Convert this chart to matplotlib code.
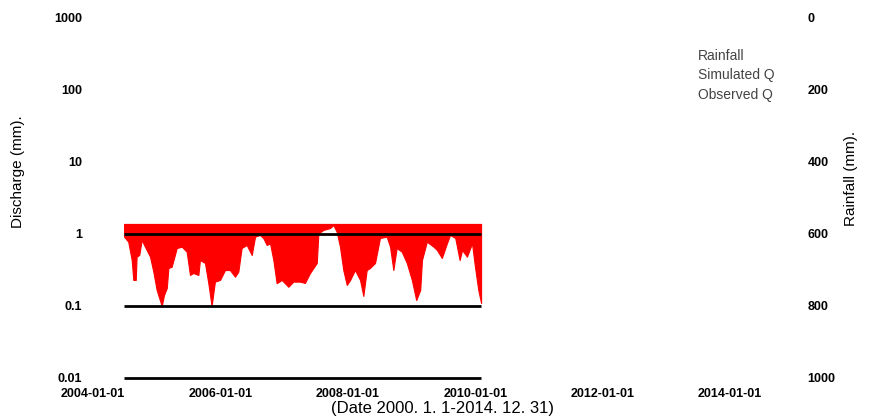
import matplotlib
matplotlib.use("Agg")
import matplotlib.pyplot as plt
import matplotlib.dates as mdates
import numpy as np
import pandas as pd

plt.rcParams['font.family'] = ['Liberation Sans', 'DejaVu Sans']

# Simulated Q: lower envelope of the dense daily series (mm), upper bound ~1.38
sim_dates = ["2004-06-27", "2004-07-21", "2004-08-10", "2004-08-19", "2004-09-02", "2004-09-07",
             "2004-09-22", "2004-10-06", "2004-10-25", "2004-11-23", "2004-12-12", "2004-12-31",
             "2005-01-29", "2005-02-11", "2005-02-27", "2005-03-08", "2005-03-27", "2005-04-25",
             "2005-05-24", "2005-06-21", "2005-07-10", "2005-07-29", "2005-08-27", "2005-09-05",
             "2005-10-04", "2005-10-23", "2005-11-11", "2005-11-30", "2005-12-29", "2006-01-27",
             "2006-02-24", "2006-03-25", "2006-04-13", "2006-05-02", "2006-05-31", "2006-06-29",
             "2006-07-18", "2006-08-15", "2006-09-03", "2006-09-23", "2006-10-12", "2006-10-31",
             "2006-11-19", "2006-12-18", "2007-01-25", "2007-02-22", "2007-04-02", "2007-04-30",
             "2007-05-29", "2007-07-07", "2007-07-16", "2007-08-13", "2007-09-21", "2007-10-10",
             "2007-10-29", "2007-11-17", "2007-12-06", "2007-12-26", "2008-01-14", "2008-02-11",
             "2008-03-11", "2008-03-30", "2008-04-18", "2008-05-07", "2008-06-05", "2008-07-03",
             "2008-08-11", "2008-08-30", "2008-09-18", "2008-10-07", "2008-11-05", "2008-12-04",
             "2009-01-02", "2009-01-27", "2009-02-19", "2009-03-01", "2009-03-29", "2009-05-06",
             "2009-05-26", "2009-06-23", "2009-07-22", "2009-08-09", "2009-09-08", "2009-10-03",
             "2009-10-17", "2009-11-14", "2009-12-13", "2009-12-30", "2010-01-18", "2010-02-03"]
sim_low = [0.917, 0.782, 0.435, 0.230, 0.230, 0.484,
           0.511, 0.826, 0.666, 0.484, 0.299, 0.167,
           0.100, 0.142, 0.178, 0.337, 0.351, 0.639,
           0.666, 0.568, 0.270, 0.287, 0.270, 0.435,
           0.396, 0.209, 0.100, 0.218, 0.230, 0.316,
           0.316, 0.255, 0.299, 0.639, 0.704, 0.511,
           0.917, 0.969, 0.880, 0.704, 0.743, 0.435,
           0.207, 0.230, 0.185, 0.218, 0.218, 0.209,
           0.287, 0.396, 1.020, 1.137, 1.210, 1.330,
           1.076, 0.666, 0.316, 0.196, 0.230, 0.316,
           0.230, 0.138, 0.316, 0.337, 0.396, 0.880,
           0.917, 0.666, 0.316, 0.639, 0.568, 0.396,
           0.230, 0.121, 0.167, 0.435, 0.782, 0.666,
           0.599, 0.464, 0.743, 0.969, 0.880, 0.435,
           0.599, 0.484, 0.743, 0.351, 0.167, 0.110]
sim_high = 1.38

# Observed Q reference lines
obs_levels = [1, 0.1, 0.01]

left_ticks = [0.01, 0.1, 1, 10, 100, 1000]
left_ticklabels = ["0.01", "0.1", "1", "10", "100", "1000"]
right_ticks = [0, 200, 400, 600, 800, 1000]
x_ticks = ["2004-01-01", "2006-01-01", "2008-01-01", "2010-01-01", "2012-01-01", "2014-01-01"]
x_range = ["2004-01-01", "2015-01-25"]
legend_names = ["Rainfall", "Simulated Q", "Observed Q"]

dates = pd.to_datetime(sim_dates)

fig = plt.figure(figsize=(8.69, 4.18), dpi=100)
ax = fig.add_axes([93/869, 1-378/418, (798-93)/869, (378-18)/418])
ax.set_yscale('log')
ax.set_ylim(0.01, 1000)
ax.set_xlim(pd.to_datetime(x_range[0]), pd.to_datetime(x_range[1]))

ax.fill_between(dates, sim_low, sim_high, color='#ff0000', linewidth=0.8, edgecolor='#ff0000')
ax.hlines(obs_levels, dates[0], dates[-1], color='black', linewidth=2, zorder=3, clip_on=False)

ax.set_yticks(left_ticks)
ax.set_yticklabels(left_ticklabels)
ax.yaxis.set_minor_locator(matplotlib.ticker.NullLocator())
ax.set_xticks(pd.to_datetime(x_ticks))
ax.xaxis.set_major_formatter(mdates.DateFormatter('%Y-%m-%d'))
for s in ax.spines.values():
    s.set_visible(False)
ax.tick_params(axis='both', length=0, labelsize=9)
ax.tick_params(axis='y', pad=8)
ax.tick_params(axis='x', pad=7)
for lab in ax.get_xticklabels() + ax.get_yticklabels():
    lab.set_fontweight('bold')

ax2 = ax.twinx()
ax2.set_ylim(1000, 0)
ax2.set_yticks(right_ticks)
ax2.set_yticklabels([str(t) for t in right_ticks])
for s in ax2.spines.values():
    s.set_visible(False)
ax2.tick_params(axis='y', length=0, labelsize=9, pad=7)
for lab in ax2.get_yticklabels():
    lab.set_fontweight('bold')

fig.text(18/869, 1-172/418, "Discharge (mm).", rotation=90, ha='center', va='center', fontsize=11)
fig.text(851/869, 1-178/418, "Rainfall (mm).", rotation=90, ha='center', va='center', fontsize=11)
fig.text(442/869, 1-408/418, "(Date 2000. 1. 1-2014. 12. 31)", ha='center', va='center', fontsize=12)

for i, name in enumerate(legend_names):
    fig.text(698/869, 1-(56 + 19.5*i)/418, name, ha='left', va='center', fontsize=10, color='#444444')

fig.savefig("out.png", dpi=100)
